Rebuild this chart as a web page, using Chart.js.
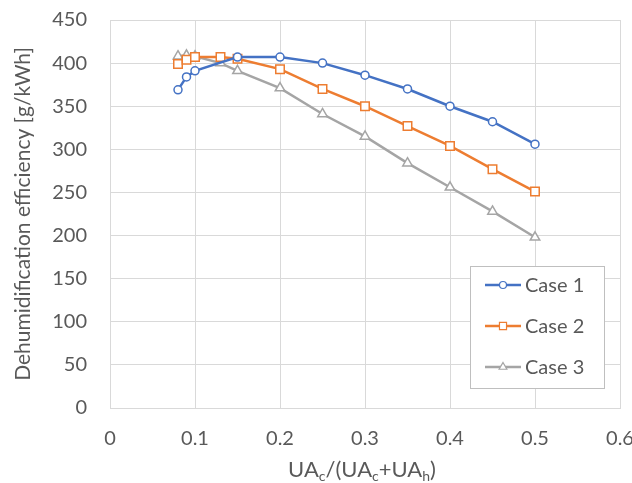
<!DOCTYPE html>
<html>
<head>
<meta charset="utf-8">
<script src="https://cdn.jsdelivr.net/npm/chart.js@4/dist/chart.umd.min.js"></script>
<style>
  html, body { margin: 0; padding: 0; background: #ffffff; }
  #wrap { width: 632px; height: 483px; }
</style>
</head>
<body>
<div id="wrap"><canvas id="c" width="632" height="483"></canvas></div>
<script>
// ---- data ----
const seriesNames = ["Case 1", "Case 2", "Case 3"];
const case1X = [0.08, 0.09, 0.10, 0.15, 0.20, 0.25, 0.30, 0.35, 0.40, 0.45, 0.50];
const case1Y = [369, 384, 391, 407, 407, 400, 386, 370, 350, 332, 306];
const case2X = [0.08, 0.09, 0.10, 0.13, 0.15, 0.20, 0.25, 0.30, 0.35, 0.40, 0.45, 0.50];
const case2Y = [399, 404, 407, 407, 405, 393, 370, 350, 327, 304, 277, 251];
const case3X = [0.08, 0.09, 0.10, 0.13, 0.15, 0.20, 0.25, 0.30, 0.35, 0.40, 0.45, 0.50];
const case3Y = [408, 409, 408, 400, 391, 371, 341, 315, 284, 256, 228, 198];
const xTicks = [0, 0.1, 0.2, 0.3, 0.4, 0.5, 0.6];
const yTicks = [0, 50, 100, 150, 200, 250, 300, 350, 400, 450];
const yTitle = "Dehumidification efficiency [g/kWh]";
// x title pieces: [text, isSubscript]
const xTitleParts = [["UA", false], ["c", true], ["/(UA", false], ["c", true], ["+UA", false], ["h", true], [")", false]];

const FONT = "Lato";
const TXT = "#595959";
const GRID = "#d9d9d9";
const colors = ["#4472C4", "#ED7D31", "#A5A5A5"];
const styles = ["circle", "rect", "triangle"];
const radii = [4, 6, 5.5];
const legendRadii = [3.5, 5, 4.5];

function pts(xs, ys) { return xs.map((x, i) => ({ x: x, y: ys[i] })); }
const allX = [case1X, case2X, case3X];
const allY = [case1Y, case2Y, case3Y];

const datasets = seriesNames.map((n, i) => ({
  label: n,
  data: pts(allX[i], allY[i]),
  borderColor: colors[i],
  backgroundColor: "#ffffff",
  borderWidth: 2.5,
  pointStyle: styles[i],
  pointRadius: radii[i],
  pointBorderWidth: 1.5,
  pointBackgroundColor: "#ffffff",
  pointBorderColor: colors[i],
  tension: 0,
  fill: false
}));

const boxLegend = {
  id: "boxLegend",
  afterDraw(chart) {
    const ctx = chart.ctx;
    const x0 = 470.5, y0 = 266.5, w = 134, h = 122;
    ctx.save();
    ctx.fillStyle = "#ffffff";
    ctx.fillRect(x0, y0, w, h);
    ctx.strokeStyle = "#bfbfbf";
    ctx.lineWidth = 1;
    ctx.strokeRect(x0, y0, w, h);
    const rows = [285, 326, 367];
    chart.data.datasets.forEach((ds, i) => {
      const y = rows[i];
      ctx.strokeStyle = ds.borderColor;
      ctx.lineWidth = 2.5;
      ctx.beginPath();
      ctx.moveTo(485, y);
      ctx.lineTo(521, y);
      ctx.stroke();
      ctx.fillStyle = "#ffffff";
      ctx.strokeStyle = ds.borderColor;
      ctx.lineWidth = 1.2;
      Chart.helpers.drawPoint(ctx, { pointStyle: ds.pointStyle, rotation: 0, radius: legendRadii[i], borderWidth: 1.2 }, 503, y);
      ctx.fillStyle = TXT;
      ctx.font = "20px " + FONT;
      ctx.textAlign = "left";
      ctx.textBaseline = "middle";
      ctx.fillText(ds.label, 525, y + 1);
    });
    ctx.restore();
  }
};

const xTitlePlugin = {
  id: "xTitlePlugin",
  afterDraw(chart) {
    const ctx = chart.ctx;
    const area = chart.chartArea;
    ctx.save();
    ctx.fillStyle = TXT;
    ctx.textBaseline = "alphabetic";
    ctx.textAlign = "left";
    const big = "22px " + FONT, small = "14px " + FONT;
    let total = 0;
    xTitleParts.forEach(p => { ctx.font = p[1] ? small : big; total += ctx.measureText(p[0]).width; });
    let x = (area.left + area.right) / 2 - total / 2 - 3;
    const base = 477;
    xTitleParts.forEach(p => {
      ctx.font = p[1] ? small : big;
      ctx.fillText(p[0], x, p[1] ? base + 4 : base);
      x += ctx.measureText(p[0]).width;
    });
    ctx.restore();
  }
};

new Chart(document.getElementById("c"), {
  type: "line",
  data: { datasets: datasets },
  plugins: [boxLegend, xTitlePlugin],
  options: {
    responsive: false,
    animation: false,
    devicePixelRatio: 1,
    layout: { padding: { top: 20, right: 12, bottom: 0, left: 0 } },
    plugins: { legend: { display: false }, tooltip: { enabled: false } },
    scales: {
      x: {
        type: "linear",
        min: 0, max: 0.6,
        afterBuildTicks(scale) { scale.ticks = xTicks.map(v => ({ value: v })); },
        afterFit(scale) { scale.height = 75; scale.paddingRight = 0; scale.paddingLeft = 0; },
        ticks: {
          color: TXT, font: { family: FONT, size: 20 }, padding: 19, maxRotation: 0,
          callback: v => String(v)
        },
        grid: { color: GRID, lineWidth: 1, drawTicks: false },
        border: { color: GRID, width: 1 }
      },
      y: {
        min: 0, max: 450,
        afterBuildTicks(scale) { scale.ticks = yTicks.map(v => ({ value: v })); },
        afterFit(scale) { scale.width = 110; scale.paddingTop = 0; scale.paddingBottom = 0; },
        ticks: { color: TXT, font: { family: FONT, size: 20 }, padding: 23 },
        grid: { color: GRID, lineWidth: 1, drawTicks: false },
        border: { color: GRID, width: 1 },
        title: { display: true, text: yTitle, color: TXT, font: { family: FONT, size: 21 }, padding: { top: 11, bottom: 0 } }
      }
    }
  }
});
</script>
</body>
</html>
